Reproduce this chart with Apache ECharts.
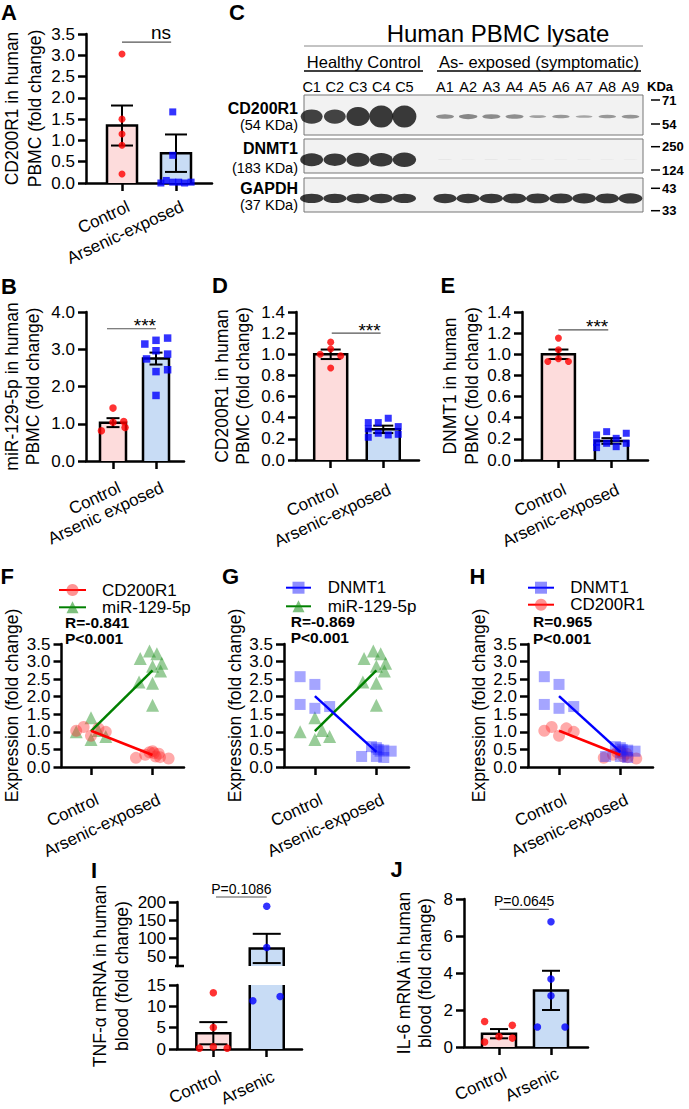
<!DOCTYPE html>
<html>
<head>
<meta charset="utf-8">
<script src="https://cdn.jsdelivr.net/npm/echarts@6.0.0/dist/echarts.min.js"></script>
<style>
html,body{margin:0;padding:0;background:#fff;}
#chart{width:689px;height:1109px;}
</style>
</head>
<body>
<div id="chart"></div>
<script>
// ======================= DATA =======================
const catsA = ['Control', 'Arsenic-exposed'];
const catsB = ['Control', 'Arsenic exposed'];
const catsDE = ['Control', 'Arsenic-exposed'];
const catsFGH = ['Control', 'Arsenic-exposed'];
const catsIJ = ['Control', 'Arsenic'];

// Panel A : CD200R1 mRNA
const aYTicks = [0, 0.5, 1, 1.5, 2, 2.5, 3, 3.5];
const aCtrl = [3.03, 1.50, 1.15, 0.885, 0.21];
const aCtrlJit = [0, 0, 0, 0, 0];
const aArs = [1.67, 0.65, 0.00, 0.06, 0.02, 0.02, 0.00, 0.02];
const aArsJit = [-0.06, -0.06, -0.28, -0.18, -0.06, 0.05, 0.16, 0.28];
const aMean = [1.35, 0.70];
const aSem = [0.47, 0.44];

// Panel B : miR-129-5p
const bYTicks = [0, 1, 2, 3, 4];
const bCtrl = [0.81, 1.42, 1.04, 1.06, 0.90];
const bCtrlJit = [-0.27, 0, 0, 0.25, 0.28];
const bArs = [3.14, 3.24, 3.30, 2.96, 2.87, 2.74, 2.40, 2.45, 1.76];
const bArsJit = [-0.26, 0, 0.27, 0, 0.27, -0.22, 0, 0.27, 0];
const bMean = [1.03, 2.75];
const bSem = [0.12, 0.16];

// Panel D : CD200R1 protein
const deYTicks = [0, 0.2, 0.4, 0.6, 0.8, 1.0, 1.2, 1.4];
const dCtrl = [1.115, 1.05, 1.00, 0.985, 0.87];
const dCtrlJit = [0, 0, -0.2, 0.19, 0];
const dArs = [0.354, 0.354, 0.395, 0.316, 0.294, 0.253, 0.237, 0.243, 0.215];
const dArsJit = [-0.285, -0.095, 0.095, 0.285, -0.285, -0.095, 0.095, 0.285, -0.285];
const dMean = [1.0, 0.29];
const dSem = [0.045, 0.035];

// Panel E : DNMT1 protein
const eCtrl = [1.153, 1.043, 0.932, 0.957, 0.932];
const eCtrlJit = [0, 0, -0.2, 0, 0.19];
const eArs = [0.237, 0.268, 0.205, 0.253, 0.168, 0.158, 0.126, 0.158, 0.117];
const eArsJit = [-0.28, -0.09, 0.09, 0.28, -0.28, -0.09, 0.09, 0.28, -0.28];
const eMean = [1.0, 0.18];
const eSem = [0.045, 0.027];

// Panels F, G, H : correlation scatter
const fghYTicks = [0, 0.5, 1, 1.5, 2, 2.5, 3, 3.5];
const cd200Ctrl = [1.03, 1.14, 0.89, 1.10, 1.00];
const cd200CtrlJit = [-0.24, -0.12, 0, 0.12, 0.24];
const cd200Ars = [0.26, 0.35, 0.42, 0.40, 0.30, 0.38, 0.45, 0.28, 0.24];
const cd200ArsJit = [-0.27, -0.12, -0.05, 0.02, 0.05, 0.10, 0, 0.12, 0.26];
const mirCtrl = [1.00, 1.40, 0.78, 1.04, 0.87];
const mirCtrlJit = [-0.24, 0, 0, 0.12, 0.24];
const mirArs = [3.09, 3.30, 3.22, 2.87, 2.95, 2.73, 2.42, 2.38, 1.76];
const mirArsJit = [-0.2, -0.05, 0.07, 0, 0.15, 0.13, -0.22, 0, 0];
const dnmtCtrl = [2.57, 2.35, 1.78, 1.67, 1.72];
const dnmtCtrlJit = [-0.24, 0, -0.24, 0, 0.24];
const dnmtArs = [0.30, 0.58, 0.55, 0.50, 0.45, 0.48, 0.30, 0.27, 0.45];
const dnmtArsJit = [-0.24, -0.08, 0, 0.03, 0.06, 0.12, 0, 0.12, 0.24];
const corrF = ['R=-0.841', 'P<0.001'];
const corrG = ['R=-0.869', 'P<0.001'];
const corrH = ['R=0.965', 'P<0.001'];

// Panel I : TNF-alpha (broken axis)
const iYTicksUpper = [50, 100, 150, 200];
const iYTicksLower = [0, 5, 10, 15];
const iCtrl = [13.2, 5.05, 0.2, 0.5, 0.2];
const iCtrlJit = [0, 0, -0.26, 0, 0.26];
const iArs = [188.5, 75.7, 11.3, 12.3];
const iArsJit = [0, 0, -0.26, 0.25];
const iMean = [3.7, 73];
const iSem = [2.6, 40];

// Panel J : IL-6
const jYTicks = [0, 2, 4, 6, 8];
const jCtrl = [1.38, 1.17, 0.57, 0.48, 0.27];
const jCtrlJit = [-0.276, 0.256, 0, 0.256, -0.276];
const jArs = [6.77, 3.67, 2.77, 1.08, 1.08];
const jArsJit = [0, 0, 0, -0.26, 0.27];
const jMean = [0.72, 3.06];
const jSem = [0.25, 1.06];

// Panel C : western blot (relative band signal 0..1)
const laneNames = ['C1', 'C2', 'C3', 'C4', 'C5', 'A1', 'A2', 'A3', 'A4', 'A5', 'A6', 'A7', 'A8', 'A9'];
const cd200Bands = [0.81, 0.80, 0.93, 1.0, 1.0, 0.45, 0.48, 0.46, 0.45, 0.36, 0.40, 0.34, 0.40, 0.42];
const dnmtBands = [0.90, 0.88, 0.93, 0.92, 0.95, 0.08, 0.04, 0.08, 0.05, 0.04, 0.04, 0.04, 0.04, 0.04];
const gapdhBands = [0.92, 0.92, 0.93, 0.93, 0.92, 0.93, 0.93, 0.93, 0.95, 0.95, 0.95, 0.96, 0.95, 0.97];
const blotProteins = ['CD200R1', 'DNMT1', 'GAPDH'];
const blotSizes = ['(54 KDa)', '(183 KDa)', '(37 KDa)'];
const mwLabels = ['71', '54', '250', '124', '43', '33'];

// ======================= BUILD =======================
const FONT = "'Liberation Sans', Arial, Helvetica, sans-serif";
const BLACK = '#000';
const CTRL_FILL = '#fddcdc';
const ARS_FILL = '#c8dcf5';
const TICK_FS = 17;
const LABEL_ROT = 25 * Math.PI / 180;
const mean = a => a.reduce((s, v) => s + v, 0) / a.length;

const grids = [], xAxes = [], yAxes = [], series = [], graphics = [], legends = [];

function addGrid(rect, xa, ya, extra) {
  const gi = grids.length;
  grids.push(Object.assign({left: rect[0], top: rect[1], width: rect[2], height: rect[3]}, extra || {}));
  xa.gridIndex = gi; ya.gridIndex = gi;
  xAxes.push(xa); yAxes.push(ya);
  return gi;
}

function catXAxis(xr, show) {
  return {
    type: 'value', min: xr[0], max: xr[1],
    axisLine: {show: show, onZero: false, lineStyle: {color: BLACK, width: 2.5}},
    axisTick: {show: show, length: 8, customValues: [1, 2], lineStyle: {color: BLACK, width: 2.5}},
    axisLabel: {show: false},
    splitLine: {show: false}
  };
}

// rotated category labels, anchored at their top-right corner just below each tick
function xLabelSeries(gi, cats, yBase, dy) {
  return {
    type: 'custom', xAxisIndex: gi, yAxisIndex: gi, silent: true, clip: false, z: 8,
    data: cats.map((c, i) => [i + 1, yBase]),
    renderItem: function (params, api) {
      const p = api.coord([api.value(0), api.value(1)]);
      return {type: 'text', x: p[0] + 3, y: p[1] + dy, rotation: LABEL_ROT,
        style: {text: cats[params.dataIndex], fontSize: 17, fontFamily: FONT, fill: BLACK,
          align: 'right', verticalAlign: 'top'}};
    }
  };
}

function valYAxis(o) {
  return {
    type: 'value',
    min: (o.min !== undefined) ? o.min : o.ticks[0],
    max: (o.max !== undefined) ? o.max : o.ticks[o.ticks.length - 1],
    axisLine: {show: true, onZero: false, lineStyle: {color: BLACK, width: 2.5}},
    axisTick: {show: true, length: 8, customValues: o.ticks, lineStyle: {color: BLACK, width: 2.5}},
    axisLabel: {customValues: o.ticks, formatter: v => Number(v).toFixed(o.dec),
      fontSize: TICK_FS, fontFamily: FONT, color: BLACK, margin: 11},
    splitLine: {show: false},
    name: o.name || '', nameLocation: 'middle', nameRotate: 90, nameGap: o.gap || 40,
    nameTextStyle: {fontSize: 17.5, fontFamily: FONT, color: BLACK, lineHeight: o.lh || 21}
  };
}

function barRender(barW) {
  return function (params, api) {
    const x = api.value(0), v = api.value(1), g = api.value(2);
    const base = api.coord([x, 0]);
    const top = api.coord([x, v]);
    const l = base[0] - barW / 2, r = base[0] + barW / 2;
    return {type: 'group', children: [
      {type: 'rect', shape: {x: l, y: top[1], width: barW, height: base[1] - top[1]},
        style: {fill: g === 0 ? CTRL_FILL : ARS_FILL}},
      {type: 'polyline', shape: {points: [[l, base[1]], [l, top[1]], [r, top[1]], [r, base[1]]]},
        style: {stroke: BLACK, lineWidth: 2.5, fill: null}}
    ]};
  };
}

function errRender(capW) {
  return function (params, api) {
    const x = api.value(0), m = api.value(1), s = api.value(2);
    const hi = api.coord([x, m + s]), lo = api.coord([x, m - s]);
    const cx = hi[0], h = capW / 2;
    const st = {stroke: BLACK, lineWidth: 2};
    return {type: 'group', children: [
      {type: 'line', shape: {x1: cx, y1: hi[1], x2: cx, y2: lo[1]}, style: st},
      {type: 'line', shape: {x1: cx - h, y1: hi[1], x2: cx + h, y2: hi[1]}, style: st},
      {type: 'line', shape: {x1: cx - h, y1: lo[1], x2: cx + h, y2: lo[1]}, style: st}
    ]};
  };
}

function sigSeries(gi, s) {
  return {
    type: 'custom', xAxisIndex: gi, yAxisIndex: gi, silent: true, z: 6, clip: false,
    data: [[s.x[0], s.x[1], s.y]],
    renderItem: function (params, api) {
      const p1 = api.coord([api.value(0), api.value(2)]);
      const p2 = api.coord([api.value(1), api.value(2)]);
      return {type: 'group', children: [
        {type: 'line', shape: {x1: p1[0], y1: p1[1], x2: p2[0], y2: p2[1]}, style: {stroke: '#555', lineWidth: 1.2}},
        {type: 'text', x: s.align === 'right' ? p2[0] : (p1[0] + p2[0]) / 2, y: p1[1] - s.dy,
          style: {text: s.text, fontSize: s.fs, fontFamily: FONT, fill: BLACK, align: s.align, verticalAlign: 'middle', lineHeight: s.fs - 4}}
      ]};
    }
  };
}

function barPanel(c) {
  const showX = c.showX !== false;
  const ya = valYAxis(c.y);
  const gi = addGrid(c.rect, catXAxis(c.xr, showX), ya);
  const filt = c.filter || (() => true);
  const clip = !!c.clip;
  series.push({type: 'custom', xAxisIndex: gi, yAxisIndex: gi, silent: true, z: 2, clip: clip,
    renderItem: barRender(c.barW), data: c.mean.map((m, i) => [i + 1, m, i])});
  series.push({type: 'custom', xAxisIndex: gi, yAxisIndex: gi, silent: true, z: 4, clip: clip,
    renderItem: errRender(c.capW), data: c.mean.map((m, i) => [i + 1, m, c.sem[i]])});
  const cd = c.ctrl.map((v, i) => [1 + c.ctrlJit[i], v]).filter(p => filt(p[1]));
  const ad = c.ars.map((v, i) => [2 + c.arsJit[i], v]).filter(p => filt(p[1]));
  series.push({type: 'scatter', xAxisIndex: gi, yAxisIndex: gi, silent: true, z: 5, clip: false,
    symbol: 'circle', symbolSize: c.dot || 7, itemStyle: {color: '#ff0000'}, data: cd});
  series.push({type: 'scatter', xAxisIndex: gi, yAxisIndex: gi, silent: true, z: 5, clip: false,
    symbol: c.arsSym || 'rect', symbolSize: c.dot || 7, itemStyle: {color: '#0000ff'}, data: ad});
  if (showX) series.push(xLabelSeries(gi, c.cats, ya.min, c.lblDy));
  if (c.sig) series.push(sigSeries(gi, c.sig));
  return gi;
}

const setCD = {name: 'CD200R1', ctrl: cd200Ctrl, ctrlJit: cd200CtrlJit, ars: cd200Ars, arsJit: cd200ArsJit,
  sym: 'circle', size: 12, fill: 'rgba(255,40,40,0.5)', line: '#ff0000'};
const setMir = {name: 'miR-129-5p', ctrl: mirCtrl, ctrlJit: mirCtrlJit, ars: mirArs, arsJit: mirArsJit,
  sym: 'triangle', size: 13, fill: 'rgba(20,140,20,0.55)', line: '#008000'};
const setDn = {name: 'DNMT1', ctrl: dnmtCtrl, ctrlJit: dnmtCtrlJit, ars: dnmtArs, arsJit: dnmtArsJit,
  sym: 'rect', size: 11, fill: 'rgba(30,30,255,0.5)', line: '#0000ff'};

function corrPanel(c) {
  const gi = addGrid(c.rect, catXAxis(c.xr, true),
    valYAxis({ticks: fghYTicks, dec: 1, name: 'Expression (fold change)', gap: c.gap, lh: 21}));
  c.sets.slice().reverse().forEach((s, k) => {
    const d = s.ctrl.map((v, i) => [1 + s.ctrlJit[i], v]).concat(s.ars.map((v, i) => [2 + s.arsJit[i], v]));
    series.push({type: 'scatter', name: s.name + ' points', xAxisIndex: gi, yAxisIndex: gi, silent: true,
      clip: false, z: 3 + k, symbol: s.sym, symbolSize: s.size, itemStyle: {color: s.fill}, data: d});
  });
  c.sets.slice().reverse().forEach((s, k) => {
    series.push({type: 'line', name: s.name, xAxisIndex: gi, yAxisIndex: gi, silent: true, z: 6 + k,
      data: [[1, mean(s.ctrl)], [2, mean(s.ars)]], symbol: s.sym, symbolSize: s.size, showSymbol: false,
      lineStyle: {color: s.line, width: 2.5}, itemStyle: {color: s.fill}});
  });
  series.push(xLabelSeries(gi, catsFGH, 0, c.lblDy));
  legends.push({orient: 'vertical', left: c.leg[0], top: c.leg[1], padding: 0, itemWidth: c.leg[2], itemHeight: 15,
    itemGap: c.leg[3], selectedMode: false, data: c.sets.map(s => s.name),
    textStyle: {fontSize: 17, fontFamily: FONT, color: BLACK, lineHeight: 14, padding: [0, 0, 0, c.leg[4]]}});
  return gi;
}

// ---- Panel A
barPanel({rect: [86, 34, 126, 149], xr: [0.333, 2.667], cats: catsA, lblDy: 15,
  y: {ticks: aYTicks, dec: 1, name: 'CD200R1 in human\nPBMC (fold change)', gap: 40, lh: 22.5},
  ctrl: aCtrl, ctrlJit: aCtrlJit, ars: aArs, arsJit: aArsJit, mean: aMean, sem: aSem,
  barW: 30, capW: 22, dot: 7,
  sig: {x: [1, 1.91], y: 3.31, text: 'ns', align: 'right', fs: 19, dy: 10}});

// ---- Panel B
barPanel({rect: [86, 312, 98, 149], xr: [0.372, 2.651], cats: catsB, lblDy: 18,
  y: {ticks: bYTicks, dec: 1, name: 'miR-129-5p in human\nPBMC (fold change)', gap: 42.5, lh: 21},
  ctrl: bCtrl, ctrlJit: bCtrlJit, ars: bArs, arsJit: bArsJit, mean: bMean, sem: bSem,
  barW: 26, capW: 13, dot: 7.5,
  sig: {x: [0.86, 2.0], y: 3.55, text: '***', align: 'right', fs: 19, dy: 3}});

// ---- Panel D
barPanel({rect: [296, 312, 123, 148], xr: [0.34, 2.68], cats: catsDE, lblDy: 21,
  y: {ticks: deYTicks, dec: 1, name: 'CD200R1 in human\nPBMC (fold change)', gap: 42.3, lh: 21.3},
  ctrl: dCtrl, ctrlJit: dCtrlJit, ars: dArs, arsJit: dArsJit, mean: dMean, sem: dSem,
  barW: 33, capW: 20, dot: 7,
  sig: {x: [1.02, 1.95], y: 1.2, text: '***', align: 'right', fs: 19, dy: 3}});

// ---- Panel E
barPanel({rect: [522, 312, 126, 148], xr: [0.313, 2.69], cats: catsDE, lblDy: 21,
  y: {ticks: deYTicks, dec: 1, name: 'DNMT1 in human\nPBMC (fold change)', gap: 39.2, lh: 21.7},
  ctrl: eCtrl, ctrlJit: eCtrlJit, ars: eArs, arsJit: eArsJit, mean: eMean, sem: eSem,
  barW: 33, capW: 20, dot: 7,
  sig: {x: [1.0, 1.94], y: 1.23, text: '***', align: 'right', fs: 19, dy: 3}});

// ---- Panels F, G, H
corrPanel({rect: [61, 644, 123, 123], xr: [0.521, 2.51], lblDy: 24, gap: 39.5,
  sets: [setCD, setMir], leg: [58, 581.5, 27, 0.3, 11]});
corrPanel({rect: [284, 644, 125, 123], xr: [0.498, 2.53], lblDy: 24, gap: 36,
  sets: [setDn, setMir], leg: [285, 579.2, 25, 1.6, 11.7]});
corrPanel({rect: [528, 644, 125, 123], xr: [0.494, 2.533], lblDy: 24, gap: 33.3,
  sets: [setDn, setCD], leg: [527, 579.2, 26, 0, 11.3]});

// ---- Panel I (broken y axis: upper + lower segments)
const giIU = barPanel({rect: [177, 902, 125, 64], xr: [0.32, 2.66], cats: catsIJ, showX: false, clip: true,
  y: {ticks: iYTicksUpper, min: 25, max: 200, dec: 0},
  ctrl: iCtrl, ctrlJit: iCtrlJit, ars: iArs, arsJit: iArsJit, mean: iMean, sem: iSem,
  barW: 34, capW: 28, dot: 7.5, arsSym: 'circle', filter: v => v >= 25,
  sig: {x: [1.05, 2.0], y: 213.7, text: 'P=0.1086', align: 'center', fs: 14, dy: 8}});
barPanel({rect: [177, 985, 125, 64], xr: [0.32, 2.66], cats: catsIJ, lblDy: 19, clip: true,
  y: {ticks: iYTicksLower, dec: 0},
  ctrl: iCtrl, ctrlJit: iCtrlJit, ars: iArs, arsJit: iArsJit, mean: iMean, sem: iSem,
  barW: 34, capW: 28, dot: 7.5, arsSym: 'circle', filter: v => v <= 15});
series.push({type: 'custom', xAxisIndex: giIU, yAxisIndex: giIU, silent: true, clip: false, z: 7,
  data: [[1, 30]],
  renderItem: function (params) {
    const cs = params.coordSys;
    return {type: 'line', shape: {x1: cs.x - 2, y1: cs.y + cs.height, x2: cs.x + 7, y2: cs.y + cs.height},
      style: {stroke: BLACK, lineWidth: 2.5}};
  }});

// ---- Panel J
barPanel({rect: [464, 899, 124, 148], xr: [0.327, 2.712], cats: catsIJ, lblDy: 18,
  y: {ticks: jYTicks, dec: 0, name: 'IL-6 mRNA in human\nblood (fold change)', gap: 28.8, lh: 21},
  ctrl: jCtrl, ctrlJit: jCtrlJit, ars: jArs, arsJit: jArsJit, mean: jMean, sem: jSem,
  barW: 34, capW: 18, dot: 7.5, arsSym: 'circle',
  sig: {x: [1.01, 1.96], y: 7.44, text: 'P=0.0645', align: 'center', fs: 14, dy: 8}});

// ---- Panel C : western blot strips
const lanePos = laneNames.map((n, i) => i < 5 ? i : i + 0.75);
function grayOf(I) {
  const g = Math.max(10, Math.round(235 - 265 * I));
  return 'rgb(' + g + ',' + g + ',' + g + ')';
}
function blotStrip(rect, bands, bandY, hMax, wMax, withLanes) {
  const xa = {type: 'value', min: -0.33, max: 14.29, position: 'top',
    axisLine: {show: false}, axisTick: {show: false}, splitLine: {show: false},
    axisLabel: withLanes ? {customValues: lanePos, formatter: v => laneNames[lanePos.indexOf(v)],
      fontSize: 14.5, fontFamily: FONT, color: BLACK, margin: 1} : {show: false}};
  const ya = {type: 'value', min: 0, max: 1, show: false};
  const gi = addGrid(rect, xa, ya, {show: true, backgroundColor: '#f2f2f2', borderColor: '#777', borderWidth: 1});
  series.push({type: 'scatter', xAxisIndex: gi, yAxisIndex: gi, silent: true, clip: true, z: 3,
    symbol: 'circle',
    symbolSize: val => [wMax * (0.55 + 0.45 * val[2]), Math.max(0.6, hMax * val[2] * val[2])],
    itemStyle: {color: p => grayOf(p.data[2])},
    data: bands.map((b, i) => [lanePos[i], bandY, b])});
}
blotStrip([304, 95, 339, 40], cd200Bands, 0.46, 22, 24, true);
blotStrip([304, 139, 339, 34], dnmtBands, 0.39, 16, 24, false);
blotStrip([304, 178, 339, 34], gapdhBands, 0.40, 11, 24, false);

// ---- graphic texts
function T(x, y, text, o) {
  return {type: 'text', x: x, y: y, silent: true, z: 100,
    style: Object.assign({text: text, fontSize: 17, fontFamily: FONT, fill: BLACK, align: 'left', verticalAlign: 'middle'}, o || {})};
}
function Ln(x1, y1, x2, y2, stroke, w) {
  return {type: 'line', silent: true, z: 100, shape: {x1: x1, y1: y1, x2: x2, y2: y2}, style: {stroke: stroke, lineWidth: w}};
}
const bold22 = {fontSize: 22, fontWeight: 'bold', lineHeight: 20};
[['A', 1, 12], ['C', 229, 12], ['B', 1, 286.5], ['D', 212, 285.5], ['E', 440.5, 285.5],
 ['F', 0.5, 576.5], ['G', 222, 576.5], ['H', 469.5, 576], ['I', 91, 870], ['J', 390.5, 869.5]]
  .forEach(l => graphics.push(T(l[1], l[2], l[0], bold22)));

graphics.push(T(498, 33.3, 'Human PBMC lysate', {fontSize: 24, align: 'center'}));
graphics.push(Ln(304, 46, 643, 46, '#888', 1));
graphics.push(T(363.7, 61.7, 'Healthy Control', {fontSize: 16.5, align: 'center'}));
graphics.push(T(539, 61.7, 'As- exposed (symptomatic)', {fontSize: 16.5, align: 'center'}));
graphics.push(Ln(304, 71, 423, 71, '#000', 1.5));
graphics.push(Ln(437, 71, 641, 71, '#000', 1.5));
graphics.push(T(660, 86, 'KDa', {fontSize: 13, fontWeight: 'bold', align: 'center'}));
[108.3, 148.3, 188.3].forEach((y, i) => graphics.push(T(298, y, blotProteins[i], {fontSize: 16, fontWeight: 'bold', align: 'right'})));
[125, 168.3, 205].forEach((y, i) => graphics.push(T(298, y, blotSizes[i], {fontSize: 14.5, align: 'right'})));
[100, 124, 146.7, 170, 188.3, 210.7].forEach((y, i) => {
  graphics.push(Ln(651, y, 660, y, '#000', 1.5));
  graphics.push(T(662, y, mwLabels[i], {fontSize: 13, fontWeight: 'bold'}));
});

const boldR = {fontSize: 15.5, fontWeight: 'bold', lineHeight: 13};
graphics.push(T(65, 622.5, corrF[0], boldR), T(65, 638.5, corrF[1], boldR));
graphics.push(T(290.7, 621, corrG[0], boldR), T(290.7, 637.5, corrG[1], boldR));
graphics.push(T(533, 621.5, corrH[0], boldR), T(533, 638.5, corrH[1], boldR));

graphics.push({type: 'text', x: 110.85, y: 976, rotation: Math.PI / 2, silent: true, z: 100,
  style: {text: 'TNF-\u03b1 mRNA in human\nblood (fold change)', fontSize: 17.5, fontFamily: FONT, fill: BLACK,
    align: 'center', verticalAlign: 'middle', lineHeight: 21.7}});

const chart = echarts.init(document.getElementById('chart'), null, {renderer: 'svg'});
chart.setOption({
  animation: false,
  backgroundColor: '#fff',
  grid: grids, xAxis: xAxes, yAxis: yAxes,
  legend: legends,
  series: series,
  graphic: {elements: graphics}
});
</script>
</body>
</html>
